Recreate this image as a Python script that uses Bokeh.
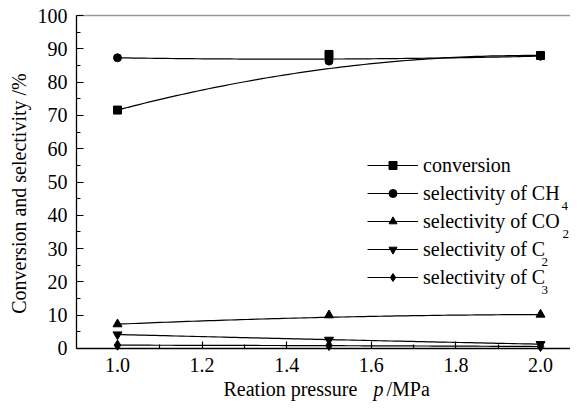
import numpy as np
from bokeh.plotting import figure
from bokeh.models import (Range1d, FixedTicker, NumeralTickFormatter, Legend, LegendItem,
                          Label, LinearAxis)
from bokeh.embed import file_html
from bokeh.resources import INLINE

# ---- data ----
pressure = [1.0, 1.5, 2.0]
conversion = [71.6, 88.3, 88.0]
sel_ch4 = [87.3, 86.3, 87.8]
sel_co2 = [7.3, 10.0, 10.2]
sel_c2 = [4.2, 2.6, 1.3]
sel_c3 = [1.0, 0.9, 0.6]

x_ticks = [1.0, 1.2, 1.4, 1.6, 1.8, 2.0]
x_minor = [1.1, 1.3, 1.5, 1.7, 1.9]
y_ticks = [0, 10, 20, 30, 40, 50, 60, 70, 80, 90, 100]
y_minor = [5, 15, 25, 35, 45, 55, 65, 75, 85, 95]

FONT = "serif"
W, H = 570, 401


def bspline(xs, ys, n=80):
    """Bezier (B-spline) curve with the data points as control points."""
    pts = np.column_stack([xs, ys]).astype(float)
    out = []
    for t in np.linspace(0, 1, n):
        q = pts.copy()
        while len(q) > 1:
            q = (1 - t) * q[:-1] + t * q[1:]
        out.append(q[0])
    out = np.array(out)
    return out[:, 0], out[:, 1]


# plotting area: x 0.903..2.1, y 0..100 ; frame covers the whole canvas
p = figure(width=W, height=H, output_backend="svg", toolbar_location=None,
           x_range=Range1d(0.7234, 2.0709), y_range=Range1d(-15.916, 104.505),
           min_border=0)
p.outline_line_color = None
p.xgrid.visible = False
p.ygrid.visible = False
p.background_fill_color = "white"
p.border_fill_color = "white"

xa = p.xaxis[0]
ya = p.yaxis[0]
xa.fixed_location = 0
xa.bounds = (0.903, 2.1)
ya.fixed_location = 0.903
ya.bounds = (0, 100)

for ax in (xa, ya):
    ax.axis_line_color = "black"
    ax.axis_line_width = 1.3
    ax.major_tick_line_color = "black"
    ax.minor_tick_line_color = "black"
    ax.major_tick_line_width = 1.2
    ax.minor_tick_line_width = 1.2
    ax.major_tick_in = 7
    ax.major_tick_out = 0
    ax.minor_tick_in = 4
    ax.minor_tick_out = 0
    ax.major_label_text_font = FONT
    ax.major_label_text_font_size = "20px"
    ax.major_label_text_color = "black"

xa.ticker = FixedTicker(ticks=x_ticks, minor_ticks=x_minor)
xa.formatter = NumeralTickFormatter(format="0.0")
xa.major_label_standoff = 10
ya.ticker = FixedTicker(ticks=y_ticks, minor_ticks=y_minor)
ya.major_label_standoff = 9

# grey top border line
top = LinearAxis(ticker=FixedTicker(ticks=[]), fixed_location=100, bounds=(0.903, 2.1),
                 axis_line_color="#999999", axis_line_width=1.3,
                 major_tick_line_color=None, minor_tick_line_color=None,
                 major_label_text_font_size="0px")
p.add_layout(top, "above")

series = [
    ("conversion", conversion, "square", 8),
    ("selectivity of CH", sel_ch4, "circle", 8),
    ("selectivity of CO", sel_co2, "triangle", 9),
    ("selectivity of C", sel_c2, "inverted_triangle", 9),
    ("selectivity of C", sel_c3, "diamond", 10),
]

items = []
for name, ys, marker, size in series:
    cx, cy = bspline(pressure, ys)
    r1 = p.line(cx, cy, line_color="black", line_width=1.2)
    r2 = p.scatter(pressure, ys, marker=marker, size=size, fill_color="black", line_color="black")
    items.append(LegendItem(label=name, renderers=[r1, r2]))

legend = Legend(items=items, location=(367, H - 288.5), padding=0, margin=0, spacing=5,
                glyph_width=51, glyph_height=20, label_height=20, label_standoff=5,
                label_text_font=FONT, label_text_font_size="20px", label_text_color="black",
                border_line_color=None, background_fill_alpha=0)
p.add_layout(legend)

# subscripts of the legend labels (screen px from the top-left corner)
subs = [("4", 561, 205), ("2", 562, 233), ("2", 541, 261), ("3", 541, 289)]
for txt, sx, sy in subs:
    p.add_layout(Label(x=sx, y=H - sy, x_units="screen", y_units="screen", text=txt,
                       text_font=FONT, text_font_size="13px", text_baseline="middle",
                       text_color="black"))

# x axis title (mixed upright / italic)
for txt, sx, style in [("Reation pressure", 223, "normal"), ("p", 373, "italic"),
                       ("/MPa", 386, "normal")]:
    p.add_layout(Label(x=sx, y=H - 388, x_units="screen", y_units="screen", text=txt,
                       text_font=FONT, text_font_size="20px", text_font_style=style,
                       text_baseline="alphabetic", text_color="black"))

# y axis title
p.add_layout(Label(x=18, y=H - 193, x_units="screen", y_units="screen",
                   text="Conversion and selectivity /%", angle=np.pi / 2,
                   text_font=FONT, text_font_size="20px", text_align="center",
                   text_baseline="alphabetic", text_color="black"))

open("out.html", "w").write(file_html(p, INLINE))
